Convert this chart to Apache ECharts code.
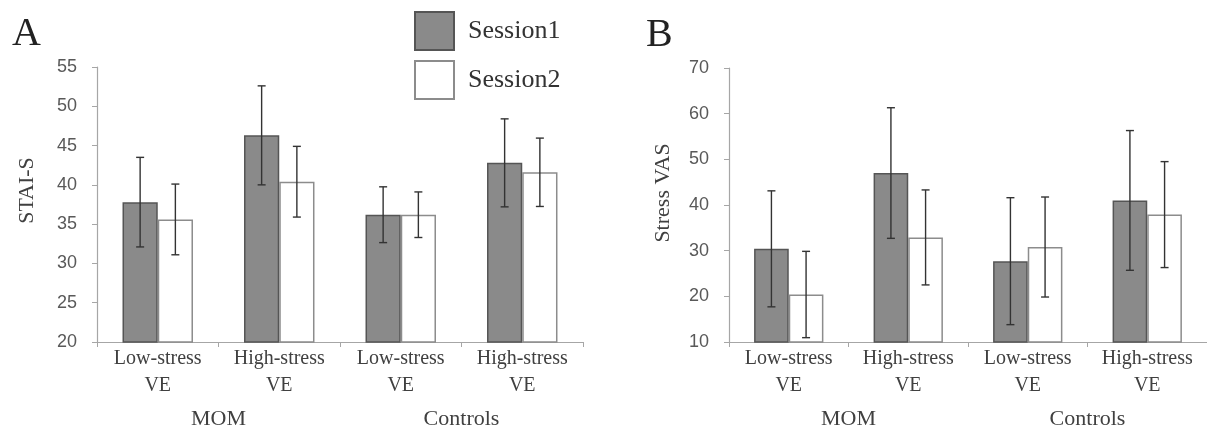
<!DOCTYPE html>
<html>
<head>
<meta charset="utf-8">
<script src="https://cdn.jsdelivr.net/npm/echarts@6/dist/echarts.min.js"></script>
<style>
  html, body { margin: 0; padding: 0; background: #fff; }
  #chart { width: 1207px; height: 432px; }
</style>
</head>
<body>
<div id="chart"></div>
<script>
// ---- data ----
const categories = ['Low-stress\nVE', 'High-stress\nVE', 'Low-stress\nVE', 'High-stress\nVE'];
const groups = ['MOM', 'Controls'];
const seriesNames = ['Session1', 'Session2'];

// Panel A: STAI-S
const staiS1 = [37.8, 46.3, 36.2, 42.8];
const staiS1Err = [5.7, 6.3, 3.55, 5.6];
const staiS2 = [35.6, 40.4, 36.2, 41.6];
const staiS2Err = [4.5, 4.5, 2.9, 4.35];

// Panel B: Stress VAS
const vasS1 = [30.4, 47.0, 27.7, 41.0];
const vasS1Err = [12.7, 14.3, 13.9, 15.3];
const vasS2 = [20.4, 32.9, 30.8, 37.9];
const vasS2Err = [9.45, 10.4, 10.95, 11.6];

const staiTicks = { min: 20, max: 55, interval: 5 };
const vasTicks = { min: 10, max: 70, interval: 10 };

// ---- styles ----
const SERIF = '"Liberation Serif", "Times New Roman", serif';
const SANS = '"Liberation Sans", "DejaVu Sans", sans-serif';
const GAP = 0.42;             // barCategoryGap
const HALF = (1 - GAP) / 4;   // bar center offset as fraction of band

const s1Style = { color: '#8a8a8a', borderColor: '#555555', borderWidth: 1.5 };
const s2Style = { color: '#ffffff', borderColor: '#8c8c8c', borderWidth: 1.5 };

function errData(vals, errs) {
  return vals.map((v, i) => [i, v - errs[i], v + errs[i]]);
}

function errSeries(name, data, gridIdx, side) {
  return {
    type: 'custom',
    name: name + ' error',
    xAxisIndex: gridIdx * 2,
    yAxisIndex: gridIdx,
    data: data,
    encode: { x: 0, y: [1, 2] },
    z: 10,
    silent: true,
    renderItem: function (params, api) {
      const band = api.size([1, 0])[0];
      const lo = api.coord([api.value(0), api.value(1)]);
      const hi = api.coord([api.value(0), api.value(2)]);
      const x = lo[0] + side * band * HALF;
      const cap = 4;
      const st = { stroke: '#333333', lineWidth: 1.4 };
      return {
        type: 'group',
        children: [
          { type: 'line', shape: { x1: x, y1: lo[1], x2: x, y2: hi[1] }, style: st },
          { type: 'line', shape: { x1: x - cap, y1: lo[1], x2: x + cap, y2: lo[1] }, style: st },
          { type: 'line', shape: { x1: x - cap, y1: hi[1], x2: x + cap, y2: hi[1] }, style: st }
        ]
      };
    }
  };
}

function catAxis(gridIdx) {
  return {
    type: 'category', gridIndex: gridIdx, data: categories,
    axisLine: { lineStyle: { color: '#a6a6a6', width: 1.2 } },
    axisTick: { show: true, interval: 0, length: 5, lineStyle: { color: '#a6a6a6' } },
    axisLabel: { interval: 0, fontFamily: SERIF, fontSize: 20, color: '#404040', lineHeight: 27, margin: 3 }
  };
}
function groupAxis(gridIdx) {
  return {
    type: 'category', gridIndex: gridIdx, data: groups, position: 'bottom', offset: 58,
    axisLine: { show: false }, axisTick: { show: false },
    axisLabel: { interval: 0, fontFamily: SERIF, fontSize: 22, color: '#404040', margin: 8 }
  };
}
function valAxis(gridIdx, ticks, name, gap, shift) {
  return {
    type: 'value', gridIndex: gridIdx, min: ticks.min, max: ticks.max, interval: ticks.interval,
    name: name, nameLocation: 'middle', nameGap: gap,
    nameTextStyle: { fontFamily: SERIF, fontSize: 22, color: '#404040', padding: [0, 0, 0, shift] },
    axisLine: { show: true, lineStyle: { color: '#a6a6a6', width: 1.2 } },
    axisTick: { show: true, length: 5, lineStyle: { color: '#a6a6a6' } },
    splitLine: { show: false },
    axisLabel: { fontFamily: SANS, fontSize: 18, color: '#595959', margin: 20 }
  };
}

function barSeries(name, vals, style, gridIdx) {
  return {
    type: 'bar', name: name, data: vals,
    xAxisIndex: gridIdx * 2, yAxisIndex: gridIdx,
    barGap: '0%', barCategoryGap: (GAP * 100) + '%',
    itemStyle: style, silent: true
  };
}

const option = {
  animation: false,
  backgroundColor: '#ffffff',
  title: [
    { text: 'A', left: 12, top: 14, padding: 0, textStyle: { fontFamily: SERIF, fontSize: 40, fontWeight: 'normal', color: '#222' } },
    { text: 'B', left: 646, top: 15, padding: 0, textStyle: { fontFamily: SERIF, fontSize: 40, fontWeight: 'normal', color: '#222' } }
  ],
  legend: {
    data: seriesNames, orient: 'vertical', left: 414, top: 11, padding: 0,
    icon: 'rect',
    itemWidth: 39, itemHeight: 38, itemGap: 9,
    textStyle: { fontFamily: SERIF, fontSize: 26, color: '#333333', padding: [0, 0, 0, 9] },
    selectedMode: false
  },
  grid: [
    { left: 97, top: 67, width: 486, height: 275 },
    { left: 729, top: 68, width: 486, height: 274 }
  ],
  xAxis: [catAxis(0), groupAxis(0), catAxis(1), groupAxis(1)],
  yAxis: [valAxis(0, staiTicks, 'STAI-S', 59, 28), valAxis(1, vasTicks, 'Stress VAS', 55, 24)],
  series: [
    barSeries('Session1', staiS1, s1Style, 0),
    barSeries('Session2', staiS2, s2Style, 0),
    barSeries('Session1', vasS1, s1Style, 1),
    barSeries('Session2', vasS2, s2Style, 1),
    errSeries('Session1', errData(staiS1, staiS1Err), 0, -1),
    errSeries('Session2', errData(staiS2, staiS2Err), 0, 1),
    errSeries('Session1', errData(vasS1, vasS1Err), 1, -1),
    errSeries('Session2', errData(vasS2, vasS2Err), 1, 1)
  ]
};

const chart = echarts.init(document.getElementById('chart'), null, { renderer: 'canvas' });
chart.setOption(option);
</script>
</body>
</html>
